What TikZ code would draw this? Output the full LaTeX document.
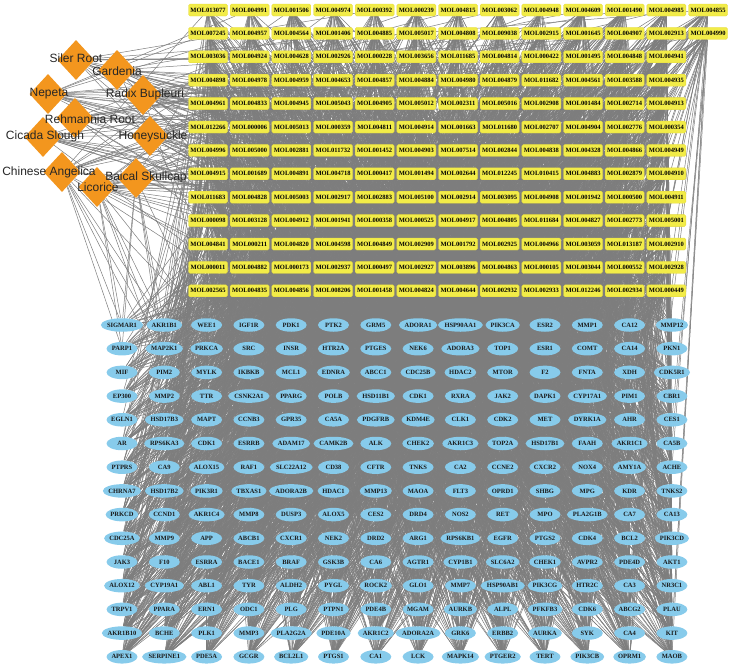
\documentclass[tikz,border=0pt]{standalone}
\usepackage{fontspec}
\setmainfont{Liberation Serif}
\newfontfamily\herbfont{Liberation Sans}
\usepackage{tikz}
\usetikzlibrary{shapes,positioning,backgrounds}
\usepackage{xcolor}
\definecolor{nwyellow}{RGB}{242,236,72}
\definecolor{nwyellowline}{RGB}{226,216,64}
\definecolor{nwblue}{RGB}{135,203,235}
\definecolor{nworange}{RGB}{243,150,30}
\definecolor{nwgray}{RGB}{125,125,125}
\tikzstyle{compound} = [rectangle, rounded corners=1.5pt, minimum width=39pt, minimum height=12pt, inner sep=0pt, text centered, fill=nwyellow, draw=nwyellowline, line width=0.3pt, font=\fontsize{6.5}{7}\selectfont\bfseries]
\tikzstyle{target} = [ellipse, minimum width=31pt, minimum height=13.5pt, inner sep=0pt, text centered, fill=nwblue, text=black!90, font=\fontsize{6.5}{7}\selectfont\bfseries]
\tikzstyle{herb} = [diamond, minimum width=37pt, minimum height=40pt, inner sep=0pt, fill=nworange]
\tikzstyle{herbtext} = [inner sep=0pt, text=black!85, font=\herbfont\fontsize{12}{13}\selectfont]
\tikzstyle{link} = [nwgray, line width=0.5pt]

\begin{document}
\begin{tikzpicture}[x=1pt, y=-1pt]
\useasboundingbox (0,0) rectangle (731,667);

% Compound nodes
\foreach \names [count=\r] in {
 {MOL013077,MOL004991,MOL001506,MOL004974,MOL000392,MOL000239,MOL004815,MOL003062,MOL004948,MOL004609,MOL001490,MOL004985,MOL004855},
 {MOL007245,MOL004957,MOL004564,MOL001406,MOL004885,MOL005017,MOL004808,MOL009038,MOL002915,MOL001645,MOL004907,MOL002913,MOL004990},
 {MOL003036,MOL004924,MOL004628,MOL002926,MOL000228,MOL003656,MOL011685,MOL004814,MOL000422,MOL001495,MOL004848,MOL004941},
 {MOL004898,MOL004978,MOL004959,MOL004653,MOL004857,MOL004884,MOL004980,MOL004879,MOL011682,MOL004561,MOL003588,MOL004935},
 {MOL004961,MOL004833,MOL004945,MOL005043,MOL004905,MOL005012,MOL002311,MOL005016,MOL002908,MOL001484,MOL002714,MOL004913},
 {MOL012266,MOL000006,MOL005013,MOL000359,MOL004811,MOL004914,MOL001663,MOL011680,MOL002707,MOL004904,MOL002776,MOL000354},
 {MOL004996,MOL005000,MOL002881,MOL011732,MOL001452,MOL004903,MOL007514,MOL002844,MOL004838,MOL004328,MOL004866,MOL004949},
 {MOL004915,MOL001689,MOL004891,MOL004718,MOL000417,MOL001494,MOL002644,MOL012245,MOL010415,MOL004883,MOL002879,MOL004910},
 {MOL011683,MOL004828,MOL005003,MOL002917,MOL002883,MOL005100,MOL002914,MOL003095,MOL004908,MOL001942,MOL000500,MOL004911},
 {MOL000098,MOL003128,MOL004912,MOL001941,MOL000358,MOL000525,MOL004917,MOL004805,MOL011684,MOL004827,MOL002773,MOL005001},
 {MOL004841,MOL000211,MOL004820,MOL004598,MOL004849,MOL002909,MOL001792,MOL002925,MOL004966,MOL003059,MOL013187,MOL002910},
 {MOL000011,MOL004882,MOL000173,MOL002937,MOL000497,MOL002927,MOL003896,MOL004863,MOL000105,MOL003044,MOL000552,MOL002928},
 {MOL002565,MOL004835,MOL004856,MOL008206,MOL001458,MOL004824,MOL004644,MOL002932,MOL002933,MOL012246,MOL002934,MOL000449}}
{
  \foreach \m [count=\c] in \names
    \node (c-\r-\c) [compound] at ({208+(\c-1)*41.67},{10+(\r-1)*23.4}) {\m};
}

% Target nodes
\foreach \names [count=\r] in {
 {SIGMAR1,AKR1B1,WEE1,IGF1R,PDK1,PTK2,GRM5,ADORA1,HSP90AA1,PIK3CA,ESR2,MMP1,CA12,MMP12},
 {PARP1,MAP2K1,PRKCA,SRC,INSR,HTR2A,PTGES,NEK6,ADORA3,TOP1,ESR1,COMT,CA14,PKN1},
 {MIF,PIM2,MYLK,IKBKB,MCL1,EDNRA,ABCC1,CDC25B,HDAC2,MTOR,F2,FNTA,XDH,CDK5R1},
 {EP300,MMP2,TTR,CSNK2A1,PPARG,POLB,HSD11B1,CDK1,RXRA,JAK2,DAPK1,CYP17A1,PIM1,CBR1},
 {EGLN1,HSD17B3,MAPT,CCNB3,GPR35,CA5A,PDGFRB,KDM4E,CLK1,CDK2,MET,DYRK1A,AHR,CES1},
 {AR,RPS6KA3,CDK1,ESRRB,ADAM17,CAMK2B,ALK,CHEK2,AKR1C3,TOP2A,HSD17B1,FAAH,AKR1C1,CA5B},
 {PTPRS,CA9,ALOX15,RAF1,SLC22A12,CD38,CFTR,TNKS,CA2,CCNE2,CXCR2,NOX4,AMY1A,ACHE},
 {CHRNA7,HSD17B2,PIK3R1,TBXAS1,ADORA2B,HDAC1,MMP13,MAOA,FLT3,OPRD1,SHBG,MPG,KDR,TNKS2},
 {PRKCD,CCND1,AKR1C4,MMP8,DUSP3,ALOX5,CES2,DRD4,NOS2,RET,MPO,PLA2G1B,CA7,CA13},
 {CDC25A,MMP9,APP,ABCB1,CXCR1,NEK2,DRD2,ARG1,RPS6KB1,EGFR,PTGS2,CDK4,BCL2,PIK3CD},
 {JAK3,F10,ESRRA,BACE1,BRAF,GSK3B,CA6,AGTR1,CYP1B1,SLC6A2,CHEK1,AVPR2,PDE4D,AKT1},
 {ALOX12,CYP19A1,ABL1,TYR,ALDH2,PYGL,ROCK2,GLO1,MMP7,HSP90AB1,PIK3CG,HTR2C,CA3,NR3C1},
 {TRPV1,PPARA,ERN1,ODC1,PLG,PTPN1,PDE4B,MGAM,AURKB,ALPL,PFKFB3,CDK6,ABCG2,PLAU},
 {AKR1B10,BCHE,PLK1,MMP3,PLA2G2A,PDE10A,AKR1C2,ADORA2A,GRK6,ERBB2,AURKA,SYK,CA4,KIT},
 {APEX1,SERPINE1,PDE5A,GCGR,BCL2L1,PTGS1,CA1,LCK,MAPK14,PTGER2,TERT,PIK3CB,OPRM1,MAOB}}
{
  \foreach \m [count=\c] in \names
    \node (t-\r-\c) [target] at ({122+(\c-1)*42.3},{325+(\r-1)*23.7}) {\m};
}

% Herb nodes
\node (siler) [herb] at (76,60) {};
\node (gardenia) [herb] at (117,70) {};
\node (nepeta) [herb] at (48,94) {};
\node (bupleuri) [herb] at (143,95) {};
\node (rehmannia) [herb] at (75,118) {};
\node (cicada) [herb] at (43,137) {};
\node (honeysuckle) [herb] at (150,136) {};
\node (angelica) [herb] at (62,172) {};
\node (baical) [herb] at (136,178) {};
\node (licorice) [herb] at (97,187) {};

% Herb labels
\node (siler-txt) [herbtext] at (76,58) {Siler Root};
\node (gardenia-txt) [herbtext] at (117,71) {Gardenia};
\node (nepeta-txt) [herbtext] at (49,94) {Nepeta};
\node (bupleuri-txt) [herbtext] at (145,94) {Radix Bupleuri};
\node (rehmannia-txt) [herbtext] at (90,119) {Rehmannia Root};
\node (cicada-txt) [herbtext] at (45,136) {Cicada Slough};
\node (honeysuckle-txt) [herbtext] at (153,136) {Honeysuckle};
\node (angelica-txt) [herbtext] at (49,172) {Chinese Angelica};
\node (baical-txt) [herbtext] at (146,177) {Baical Skullcap};
\node (licorice-txt) [herbtext] at (98,187) {Licorice};

% Edges
\begin{pgfonlayer}{background}
\pgfmathsetseed{7}
% herb - compound
\foreach \r in {1,...,13}{
  \pgfmathtruncatemacro\ncol{\r<3 ? 13 : 12}
  \foreach \c in {1,...,\ncol}{
    \pgfmathtruncatemacro\h{random(1,10)}
    \foreach \hn [count=\i] in {siler,gardenia,nepeta,bupleuri,rehmannia,cicada,honeysuckle,angelica,baical,licorice}{
      \ifnum\i=\h \draw[link] (\hn) -- (c-\r-\c); \fi
    }
  }
}
\foreach \hn in {licorice,baical,angelica}
  \foreach \t in {t-1-1,t-1-2,t-2-1,t-1-3,t-3-2,t-2-2}
    \draw[link] (\hn) -- (\t);
% compound - target
\foreach \r in {1,...,15}{
  \pgfmathtruncatemacro\deg{10+2*\r}
  \foreach \c in {1,...,14}{
    \foreach \k in {1,...,\deg}{
      \pgfmathtruncatemacro\R{random(1,13)}
      \pgfmathtruncatemacro\N{\R<3 ? 13 : 12}
      \pgfmathtruncatemacro\C{random(1,\N)}
      \draw[link] (t-\r-\c) -- (c-\R-\C);
    }
  }
}
\end{pgfonlayer}
\end{tikzpicture}
\end{document}
